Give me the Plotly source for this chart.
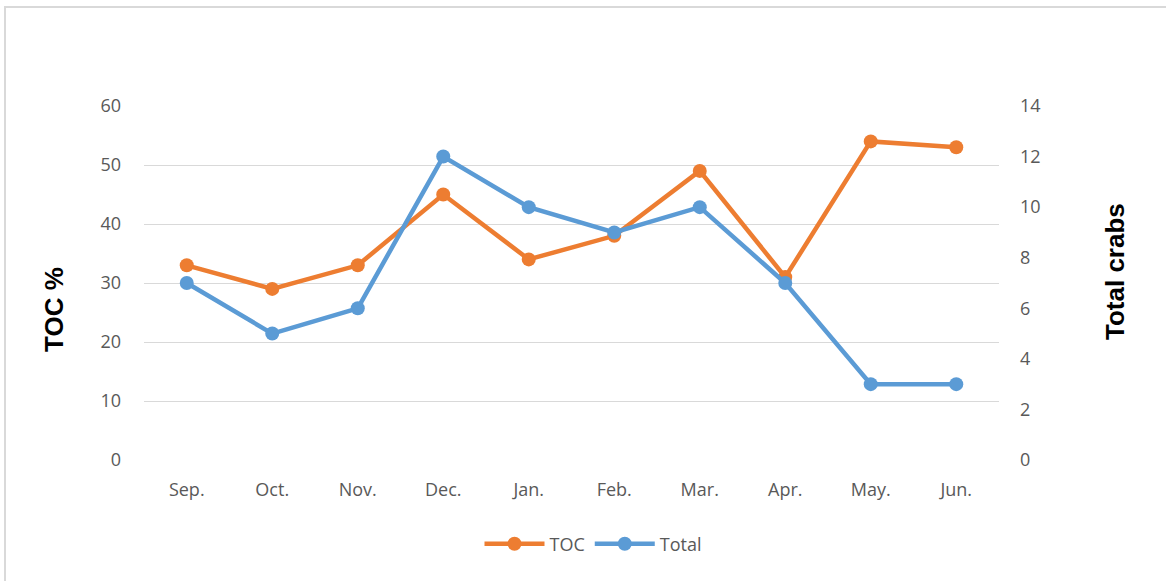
import plotly.graph_objects as go

months = ["Sep.", "Oct.", "Nov.", "Dec.", "Jan.", "Feb.", "Mar.", "Apr.", "May.", "Jun."]
toc = [33, 29, 33, 45, 34, 38, 49, 31, 54, 53]
total = [7, 5, 6, 12, 10, 9, 10, 7, 3, 3]

W, H = 1166, 581
L, R, T, B = 144, 167, 106, 121
pw, ph = W - L - R, H - T - B


def px_x(x):
    return (x - L) / pw


def px_y(y):
    return (H - B - y) / ph


fig = go.Figure()
fig.add_trace(go.Scatter(x=months, y=toc, name="TOC", mode="lines+markers",
                         line=dict(color="#ED7D31", width=4.5),
                         marker=dict(size=14, color="#ED7D31"), yaxis="y"))
fig.add_trace(go.Scatter(x=months, y=total, name="Total", mode="lines+markers",
                         line=dict(color="#5B9BD5", width=4.5),
                         marker=dict(size=14, color="#5B9BD5"), yaxis="y2"))

tickfont = dict(family="Open Sans, Liberation Sans, sans-serif", size=18, color="#595959")
titlefont = dict(family="Liberation Sans, Arial, sans-serif", size=26, color="#000000")

fig.update_layout(
    width=W, height=H,
    margin=dict(l=L, r=R, t=T, b=B, autoexpand=False),
    paper_bgcolor="white", plot_bgcolor="white",
    showlegend=True,
    legend=dict(orientation="h", x=px_x(593), xanchor="center", y=px_y(544), yanchor="middle",
                font=tickfont, itemwidth=60),
    xaxis=dict(type="category", range=[-0.5, len(months) - 0.5], tickfont=tickfont,
               showgrid=False, zeroline=False, showline=False, ticks="", ticklabelstandoff=17,
               automargin=False),
    yaxis=dict(range=[0, 60], dtick=10, tickfont=tickfont, showgrid=True, gridcolor="#D9D9D9",
               gridwidth=1.3, zeroline=False, showline=False, ticks="", ticklabelstandoff=22,
               automargin=False),
    yaxis2=dict(range=[0, 14], dtick=2, overlaying="y", side="right", tickfont=tickfont,
                showgrid=False, zeroline=False, showline=False, ticks="", ticklabelstandoff=20,
                automargin=False),
    annotations=[
        dict(text="<b>TOC %</b>", xref="paper", yref="paper", x=px_x(54), y=px_y(310),
             xanchor="center", yanchor="middle", textangle=-90, showarrow=False, font=titlefont),
        dict(text="<b>Total crabs</b>", xref="paper", yref="paper", x=px_x(1115), y=px_y(272),
             xanchor="center", yanchor="middle", textangle=-90, showarrow=False, font=titlefont),
    ],
    shapes=[dict(type="rect", xref="paper", yref="paper",
                 x0=px_x(5), x1=px_x(W + 20), y0=px_y(H + 20), y1=px_y(7),
                 line=dict(color="#D9D9D9", width=2), layer="below")],
)

fig.write_html("out.html", config={"displayModeBar": False},
               post_script="document.body.style.margin='0';document.body.style.overflow='hidden';")
